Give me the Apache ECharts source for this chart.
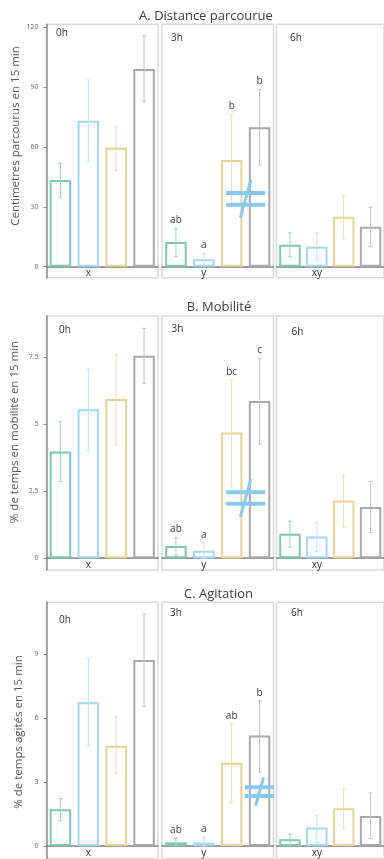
<!DOCTYPE html>
<html>
<head>
<meta charset="utf-8">
<script src="https://cdn.jsdelivr.net/npm/echarts@6/dist/echarts.min.js"></script>
<style>
  html, body { margin: 0; padding: 0; background: #fff; }
  #main { width: 384px; height: 859px; }
</style>
</head>
<body>
<div id="main"></div>
<script>
// donnees
var groups = ['0h', '3h', '6h'];
var treatments = ['T1', 'T2', 'T3', 'T4'];
var facetLetters = ['x', 'y', 'xy'];
var panelTitles = ['A. Distance parcourue', 'B. Mobilité', 'C. Agitation'];
var yNames = ['Centimetres parcourus en 15 min', '% de temps en mobilité en 15 min', '% de temps agités en 15 min'];

// A. distance
var distMean = [[43.5, 73.2, 59.6, 99.1], [12.4, 3.7, 53.5, 69.9], [11.0, 10.0, 25.1, 20.0]];
var distLow = [[34.8, 52.7, 48.2, 82.9], [5.0, 0.5, 31.5, 51.0], [5.0, 3.4, 14.0, 10.0]];
var distHigh = [[51.8, 93.6, 70.5, 115.8], [19.2, 6.7, 76.4, 88.9], [17.0, 17.0, 35.8, 29.8]];
var distLetters = [['', '', '', ''], ['ab', 'a', 'b', 'b'], ['', '', '', '']];
var distTicks = [0, 30, 60, 90, 120];

// B. mobilite
var mobMean = [[3.98, 5.56, 5.94, 7.56], [0.46, 0.28, 4.69, 5.87], [0.91, 0.81, 2.15, 1.91]];
var mobLow = [[2.86, 4.01, 4.23, 6.53], [0.09, 0.0, 2.67, 4.25], [0.41, 0.25, 1.16, 0.96]];
var mobHigh = [[5.10, 7.06, 7.62, 8.58], [0.77, 0.58, 6.65, 7.45], [1.38, 1.34, 3.11, 2.87]];
var mobLetters = [['', '', '', ''], ['ab', 'a', 'bc', 'c'], ['', '', '', '']];
var mobTicks = [0, 2.5, 5, 7.5];

// C. agitation
var agitMean = [[1.72, 6.75, 4.71, 8.73], [0.17, 0.16, 3.91, 5.18], [0.31, 0.86, 1.77, 1.41]];
var agitLow = [[1.19, 4.69, 3.38, 6.54], [0.0, 0.0, 2.05, 3.46], [0.03, 0.16, 0.80, 0.34]];
var agitHigh = [[2.22, 8.81, 6.06, 10.89], [0.36, 0.41, 5.74, 6.81], [0.55, 1.42, 2.68, 2.49]];
var agitLetters = [['', '', '', ''], ['ab', 'a', 'ab', 'b'], ['', '', '', '']];
var agitTicks = [0, 3, 6, 9];

// symbole "different" dans la facette 3h : [position categorie, valeur]
var neqAt = [[2.5, 34], [2.5, 2.25], [3.0, 2.55]];

var means = [distMean, mobMean, agitMean];
var lows = [distLow, mobLow, agitLow];
var highs = [distHigh, mobHigh, agitHigh];
var letters = [distLetters, mobLetters, agitLetters];
var ticks = [distTicks, mobTicks, agitTicks];

// mise en page
var barColors = ['#7dc9b1', '#a3d8f0', '#e8d591', '#a9a9a9'];
var errColors = ['#98d5c3', '#bfe4f5', '#ecdea6', '#c2c2c2'];
var neqColor = '#86cbed';
var font = '"Open Sans", sans-serif';
var facetLeft = [46.5, 162, 276.5];
var facetWidth = 111.5;
var panelTop = [24.3, 316, 602.3];
var panelHeight = [253.4, 254, 256.2];
var panelMin = [-5.5, -0.44, -0.59];
var panelMax = [121.5, 9.04, 11.44];
var titlePos = [[201, 5], [214, 296], [213.5, 583]];
var facetLabelPos = [
  [[51, 23], [166, 28], [285, 28]],
  [[54, 320], [166.5, 319], [286.5, 322]],
  [[54, 610], [165, 603], [286, 603]]
];
var yNamePos = [[16, 136], [14.5, 432], [19, 732]];
var neqScale = [1, 1, 0.75];

var chart = echarts.init(document.getElementById('main'));

var grid = [], xAxis = [], yAxis = [], series = [], title = [], graphic = [];

for (var p = 0; p < 3; p++) {
  title.push({
    text: panelTitles[p],
    left: titlePos[p][0],
    top: titlePos[p][1],
    textAlign: 'center',
    textStyle: { fontFamily: font, fontSize: 13, fontWeight: 'normal', color: '#404040' }
  });
  graphic.push({
    type: 'text',
    x: yNamePos[p][0],
    y: yNamePos[p][1],
    rotation: Math.PI / 2,
    style: {
      text: yNames[p],
      font: '11.5px ' + font,
      fill: '#595959',
      align: 'center',
      verticalAlign: 'middle'
    }
  });

  for (var f = 0; f < 3; f++) {
    var k = p * 3 + f;
    grid.push({
      show: true,
      left: facetLeft[f],
      width: facetWidth,
      top: panelTop[p],
      height: panelHeight[p],
      borderColor: '#dadada',
      borderWidth: 1.5,
      backgroundColor: 'transparent'
    });
    title.push({
      text: groups[f],
      left: facetLabelPos[p][f][0],
      top: facetLabelPos[p][f][1],
      textStyle: { fontFamily: font, fontSize: 10, fontWeight: 'normal', color: '#333' }
    });
    (function (f) {
      xAxis.push({
        type: 'category',
        gridIndex: k,
        data: treatments,
        axisLine: { show: true, lineStyle: { color: '#808080', width: 1.5 } },
        axisTick: { show: false },
        axisLabel: {
          inside: true,
          margin: 0,
          interval: 0,
          fontFamily: font,
          fontSize: 10,
          color: '#333',
          formatter: function (v, i) { return i === 1 ? facetLetters[f] : ''; }
        },
        splitLine: { show: false }
      });
    })(f);
    yAxis.push({
      type: 'value',
      gridIndex: k,
      min: panelMin[p],
      max: panelMax[p],
      splitLine: { show: false },
      axisLine: { show: f === 0, lineStyle: { color: '#8c8c8c', width: 1.5 } },
      axisTick: { show: f === 0, length: 3, customValues: ticks[p], lineStyle: { color: '#8c8c8c' } },
      axisLabel: {
        show: f === 0,
        customValues: ticks[p],
        margin: 8,
        fontFamily: font,
        fontSize: 7,
        color: '#666'
      }
    });

    series.push({
      type: 'bar',
      xAxisIndex: k,
      yAxisIndex: k,
      barWidth: 21.5,
      silent: true,
      data: means[p][f].map(function (v, i) {
        return {
          value: v,
          itemStyle: { color: 'rgba(255,255,255,0)', borderColor: barColors[i], borderWidth: 2 }
        };
      })
    });

    (function (p, f) {
      series.push({
        type: 'custom',
        xAxisIndex: k,
        yAxisIndex: k,
        silent: true,
        z: 5,
        data: lows[p][f].map(function (lo, i) { return [i, lo, highs[p][f][i]]; }),
        renderItem: function (params, api) {
          var i = api.value(0);
          var a = api.coord([i, api.value(1)]);
          var b = api.coord([i, api.value(2)]);
          var c = errColors[i];
          var children = [
            { type: 'line', shape: { x1: a[0], y1: a[1], x2: b[0], y2: b[1] }, style: { stroke: c, lineWidth: 1 } },
            { type: 'line', shape: { x1: a[0] - 2, y1: a[1], x2: a[0] + 2, y2: a[1] }, style: { stroke: c, lineWidth: 1 } },
            { type: 'line', shape: { x1: b[0] - 2, y1: b[1], x2: b[0] + 2, y2: b[1] }, style: { stroke: c, lineWidth: 1 } }
          ];
          var t = letters[p][f][i];
          if (t) {
            children.push({
              type: 'text',
              x: b[0], y: b[1] - 3,
              style: { text: t, font: '10px ' + font, fill: '#404040', align: 'center', verticalAlign: 'bottom' }
            });
          }
          return { type: 'group', children: children };
        }
      });
    })(p, f);

    if (f === 1) {
      (function (p) {
        series.push({
          type: 'custom',
          xAxisIndex: k,
          yAxisIndex: k,
          silent: true,
          z: 6,
          data: [neqAt[p]],
          renderItem: function (params, api) {
            var band = api.size([1, 0])[0];
            var base = api.coord([0, api.value(1)]);
            var cx = base[0] + api.value(0) * band;
            var cy = base[1];
            var s = neqScale[p];
            var hw = 19.5 * s, gap = 5.8 * s;
            var st = { stroke: neqColor, lineWidth: 4 };
            return {
              type: 'group',
              children: [
                { type: 'line', shape: { x1: cx - hw, y1: cy - gap, x2: cx + hw, y2: cy - gap }, style: st },
                { type: 'line', shape: { x1: cx - hw, y1: cy + gap, x2: cx + hw, y2: cy + gap }, style: st },
                { type: 'line', shape: { x1: cx - 5.3 * s, y1: cy + 19 * s, x2: cx + 5.3 * s, y2: cy - 19 * s }, style: { stroke: neqColor, lineWidth: 3 } }
              ]
            };
          }
        });
      })(p);
    }
  }
}

chart.setOption({
  animation: false,
  backgroundColor: '#fff',
  title: title,
  grid: grid,
  xAxis: xAxis,
  yAxis: yAxis,
  series: series,
  graphic: graphic
});
</script>
</body>
</html>
